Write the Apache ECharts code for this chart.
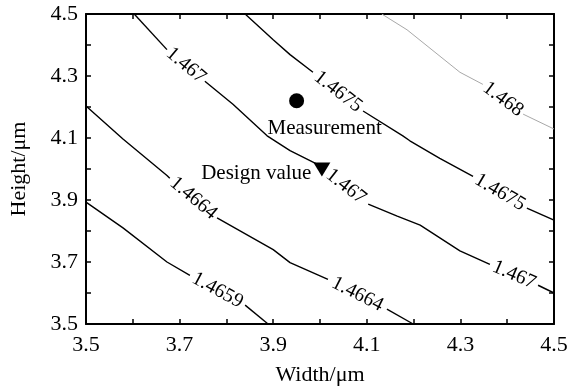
<!DOCTYPE html>
<html>
<head>
<meta charset="utf-8">
<script src="https://cdn.jsdelivr.net/npm/echarts@6/dist/echarts.min.js"></script>
<style>html,body{margin:0;padding:0;background:#fff}#c{width:579px;height:391px}</style>
</head>
<body>
<div id="c"></div>
<script>
// ---- data ----
const xRange = [3.5, 4.5];
const yRange = [3.5, 4.5];
const tickStep = [0.1];
const xTickLabels = ['3.5', '3.7', '3.9', '4.1', '4.3', '4.5'];
const yTickLabels = ['3.5', '3.7', '3.9', '4.1', '4.3', '4.5'];
const xTitle = ['Width/\u03bcm'];
const yTitle = ['Height/\u03bcm'];

// contour lines; null = gap where the level label sits
const levelNames = ['1.4659', '1.4664', '1.467', '1.4675', '1.468'];
const c14659 = [[3.5, 3.893], [3.579, 3.81], [3.673, 3.70], [3.722, 3.657], null, [3.84, 3.561], [3.889, 3.5]];
const c14664 = [[3.5, 4.203], [3.579, 4.097], [3.673, 3.979], [3.679, 3.970], null, [3.780, 3.842], [3.9, 3.740], [3.936, 3.698], [4.017, 3.644], null, [4.143, 3.548], [4.199, 3.5]];
const c1467 = [[3.603, 4.5], [3.673, 4.385], null, [3.754, 4.283], [3.814, 4.209], [3.887, 4.107], [3.936, 4.059], [4.0, 4.011], [4.008, 4.0], null, [4.103, 3.887], [4.165, 3.848], [4.214, 3.819], [4.299, 3.736], [4.363, 3.692], null, [4.466, 3.625], [4.5, 3.60]];
const c14675 = [[3.840, 4.5], [3.9, 4.417], [3.936, 4.369], [3.985, 4.312], null, [4.092, 4.187], [4.177, 4.107], [4.192, 4.091], [4.256, 4.034], [4.327, 3.976], null, [4.442, 3.874], [4.5, 3.835]];
const c1468 = [[4.132, 4.5], [4.186, 4.449], [4.299, 4.312], [4.348, 4.273], null, [4.434, 4.177], [4.5, 4.129]];
const contours = [c14659, c14664, c1467, c14675, c1468];
const contourColors = ['#000', '#000', '#000', '#000', '#a8a8a8'];

const measurePoint = [[3.95, 4.22]];
const designPoint = [[4.004, 3.998]];
const pointNames = ['Measurement', 'Design value'];

// ---- chart ----
const FONT = 'Liberation Serif';
const chart = echarts.init(document.getElementById('c'), null, {renderer: 'canvas'});

function segmentsOf(pts) {
  const segs = [[]];
  pts.forEach(p => { if (p === null) segs.push([]); else segs[segs.length - 1].push(p); });
  return segs;
}
function gapsOf(pts) {
  const g = [];
  for (let i = 0; i < pts.length; i++) if (pts[i] === null) g.push([pts[i - 1], pts[i + 1]]);
  return g;
}

const axisCommon = {
  type: 'value', min: xRange[0], max: xRange[1], interval: tickStep[0],
  splitLine: {show: false},
  axisLine: {lineStyle: {color: '#000', width: 2}},
  axisTick: {inside: true, length: 5, lineStyle: {color: '#000', width: 1.5}},
};
const tickFmt = (labels) => (v) => {
  const s = v.toFixed(1);
  return labels.indexOf(s) >= 0 ? s : '';
};

const series = [];
contours.forEach((pts, ci) => {
  segmentsOf(pts).forEach(seg => {
    series.push({
      type: 'line', data: seg, symbol: 'none', silent: true,
      lineStyle: {color: contourColors[ci], width: ci === 4 ? 1 : 1.4},
      xAxisIndex: 0, yAxisIndex: 0
    });
  });
});
series.push({
  type: 'scatter', data: measurePoint, symbol: 'circle', symbolSize: 15,
  itemStyle: {color: '#000', opacity: 1},
  label: {show: true, formatter: pointNames[0], position: 'bottom', distance: 10, offset: [28, 0],
    fontFamily: FONT, fontSize: 21, color: '#000', opacity: 1}
});
series.push({
  type: 'scatter', data: designPoint, symbol: 'triangle', symbolRotate: 180, symbolSize: [17, 14],
  itemStyle: {color: '#000', opacity: 1},
  label: {show: true, formatter: pointNames[1], position: 'left', distance: 2, offset: [0, 4],
    fontFamily: FONT, fontSize: 21, color: '#000', opacity: 1}
});

const option = {
  backgroundColor: '#fff',
  animation: false,
  grid: {left: 86, right: 25, top: 14, bottom: 64},
  xAxis: [
    Object.assign({}, axisCommon, {
      position: 'bottom', name: xTitle[0], nameLocation: 'middle', nameGap: 40,
      nameTextStyle: {fontFamily: FONT, fontSize: 22, color: '#000'},
      axisLabel: {formatter: tickFmt(xTickLabels), fontFamily: FONT, fontSize: 22, color: '#000', margin: 10}
    }),
    Object.assign({}, axisCommon, {position: 'top', axisLabel: {show: false}})
  ],
  yAxis: [
    Object.assign({}, axisCommon, {
      min: yRange[0], max: yRange[1],
      position: 'left', name: yTitle[0], nameLocation: 'middle', nameGap: 56,
      nameTextStyle: {fontFamily: FONT, fontSize: 22, color: '#000'},
      axisLabel: {formatter: tickFmt(yTickLabels), fontFamily: FONT, fontSize: 22, color: '#000', margin: 8}
    }),
    Object.assign({}, axisCommon, {min: yRange[0], max: yRange[1], position: 'right', axisLabel: {show: false}})
  ],
  series: series
};
chart.setOption(option);

// contour level labels, rotated along the line gap
const labelData = [];
contours.forEach((pts, ci) => {
  gapsOf(pts).forEach(([a, b]) => {
    const pa = chart.convertToPixel({gridIndex: 0}, a);
    const pb = chart.convertToPixel({gridIndex: 0}, b);
    const ang = Math.atan2(pb[1] - pa[1], pb[0] - pa[0]) * 180 / Math.PI;
    labelData.push({
      value: [(a[0] + b[0]) / 2, (a[1] + b[1]) / 2],
      label: {rotate: -ang, formatter: levelNames[ci]}
    });
  });
});
series.push({
  type: 'scatter', data: labelData, symbolSize: 0, silent: true,
  itemStyle: {opacity: 1},
  label: {show: true, position: 'inside', fontFamily: FONT, fontSize: 20, color: '#000', opacity: 1}
});
chart.setOption({series: series});
</script>
</body>
</html>
